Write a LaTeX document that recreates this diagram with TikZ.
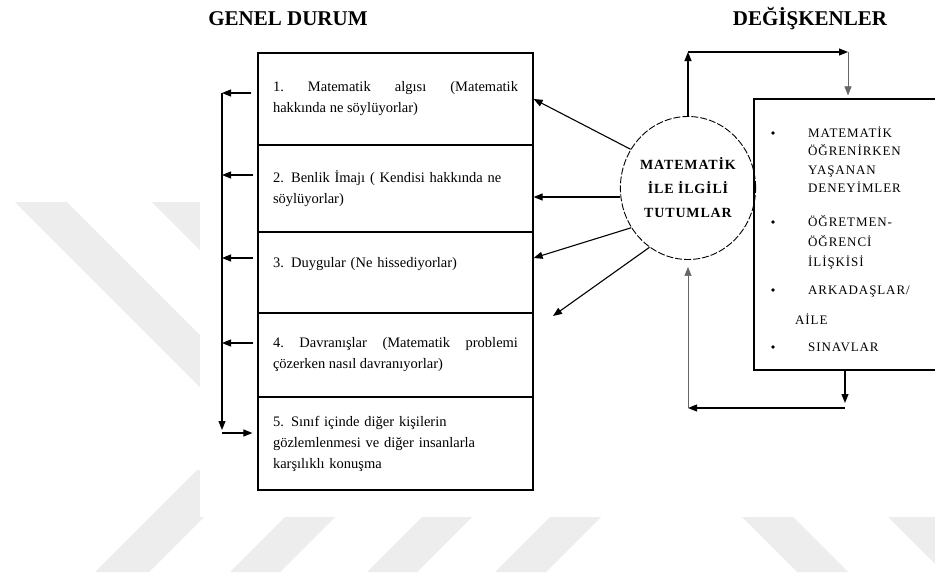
\documentclass[tikz,border=0pt]{standalone}
\usepackage{fontspec}
\setmainfont{Liberation Serif}
\newfontfamily\spacedA[LetterSpace=7]{Liberation Serif}
\newfontfamily\spacedB[LetterSpace=6]{Liberation Serif}
\usetikzlibrary{arrows.meta,shapes.geometric}
\tikzset{
  wm/.style={fill=black!7,draw=none},
  boxst/.style={draw,line width=1.2pt,minimum width=275pt,text width=245pt,inner xsep=15pt,inner ysep=0pt,
    font=\fontsize{14.5}{21}\selectfont},
  titlest/.style={font=\fontsize{21}{24}\selectfont\bfseries,anchor=base,inner sep=0pt},
  itm/.style={font=\spacedA\fontsize{13}{18}\selectfont,anchor=base west,inner sep=0pt},
  bul/.style={circle,fill=black,inner sep=1.4pt},
  arr/.style={-{Triangle[length=9pt,width=7pt]},line width=1.1pt},
  thinarr/.style={-{Triangle[length=9pt,width=7pt]},line width=0.6pt,draw=black!60},
}
\begin{document}
\begin{tikzpicture}[x=1pt,y=-1pt]
\useasboundingbox (0,0) rectangle (935,576);
\clip (0,0) rectangle (935,576);
\fill[white] (0,0) rectangle (935,576);
% watermark stripes
\fill[wm] (15,202) -- (67,202) -- (267,402) -- (215,402) -- cycle;
\fill[wm] (152,202) -- (204,202) -- (300,298) -- (248,298) -- cycle;
\fill[wm] (95,572) -- (149,572) -- (251,470) -- (197,470) -- cycle;
\fill[wm] (230,572) -- (280,572) -- (335,517) -- (285,517) -- cycle;
\fill[wm] (367,572) -- (417,572) -- (472,517) -- (422,517) -- cycle;
\fill[wm] (495,572) -- (546,572) -- (601,517) -- (550,517) -- cycle;
\fill[wm] (742,517) -- (793,517) -- (848,572) -- (797,572) -- cycle;
\fill[wm] (888,517) -- (940,517) -- (995,572) -- (943,572) -- cycle;
\fill[white] (200,0) rectangle (935,517);

% titles
\node[titlest] (gd) at (288,25) {GENEL DURUM};
\node[titlest] (dg) at (810,25) {DEĞİŞKENLER};

% left boxes
\node[boxst,minimum height=92pt,align=justify] (b1) at (395.5,99)
  {1.\ Matematik algısı (Matematik\linebreak hakkında ne söylüyorlar)};
\node[boxst,minimum height=87pt,align=left] (b2) at (395.5,188.5)
  {2. Benlik İmajı ( Kendisi hakkında ne\\ söylüyorlar)};
\node[boxst,minimum height=81pt,align=left] (b3) at (395.5,272.5)
  {3. Duygular (Ne hissediyorlar)\\ \mbox{}};
\node[boxst,minimum height=84pt,align=justify] (b4) at (395.5,355)
  {4.\ Davranışlar (Matematik problemi\linebreak çözerken nasıl davranıyorlar)};
\node[boxst,minimum height=93pt,align=left] (b5) at (395.5,443.5)
  {5. Sınıf içinde diğer kişilerin\\ gözlemlenmesi ve diğer insanlarla\\ karşılıklı konuşma};

% ellipse
\node[ellipse,draw,line width=0.9pt,dash pattern=on 7pt off 2pt,minimum width=124pt,minimum height=143pt,
  inner sep=0pt,align=center,font=\spacedB\bfseries\fontsize{14}{24}\selectfont] (att) at (688,188)
  {MATEMATİK\\İLE İLGİLİ\\TUTUMLAR};

% right box
\node[draw,line width=1.2pt,minimum width=220pt,minimum height=271pt] (var) at (864,234.5) {};
\node[bul] (d1) at (773,133) {};
\node[bul] (d2) at (773,222) {};
\node[bul] (d3) at (773,290) {};
\node[bul] (d4) at (773,347) {};
\node[itm] (v1) at (808,137) {MATEMATİK};
\node[itm] (v2) at (808,155) {ÖĞRENİRKEN};
\node[itm] (v3) at (808,174) {YAŞANAN};
\node[itm] (v4) at (808,192) {DENEYİMLER};
\node[itm] (v5) at (808,226) {ÖĞRETMEN-};
\node[itm] (v6) at (808,246) {ÖĞRENCİ};
\node[itm] (v7) at (808,266) {İLİŞKİSİ};
\node[itm] (v8) at (808,294) {ARKADAŞLAR/};
\node[itm] (v9) at (795,324) {AİLE};
\node[itm] (v10) at (808,351) {SINAVLAR};

% left feedback line
\coordinate (L1) at (222,93);
\coordinate (L2) at (222,175);
\coordinate (L3) at (222,258);
\coordinate (L4) at (222,343);
\coordinate (Lc) at (222,433);
\draw[arr,shorten <=6pt] (b1.west |- L1) -- (L1);
\draw[arr,shorten <=4pt] (b2.west |- L2) -- (L2);
\draw[arr,shorten <=4pt] (b3.west |- L3) -- (L3);
\draw[arr,shorten <=4pt] (b4.west |- L4) -- (L4);
\draw[arr,shorten >=3pt] (L1) -- (Lc);
\draw[arr,shorten >=5pt] (Lc) -- (b5.west |- Lc);

% ellipse to boxes
\coordinate (A4) at (553,316);
\draw[arr] (att.146) -- (b1.east);
\draw[arr] ([yshift=-9pt]att.west) -- ([yshift=-8.5pt]b2.east);
\draw[arr] (att.215) -- ([yshift=14.5pt]b3.east);
\draw[arr] (att.237) -- (A4);

% top loop
\coordinate (T1) at (688,52);
\coordinate (T2) at (848,52);
\draw[arr] (att.north) -- (T1);
\draw[arr] (T1) -- (T2);
\draw[thinarr,shorten >=3pt] (T2) -- (var.north -| T2);

% bottom loop
\coordinate (B1) at (845,408);
\coordinate (B2) at (688,408);
\draw[arr,shorten >=5pt] (var.south -| B1) -- (B1);
\draw[arr] (B1) -- (B2);
\draw[thinarr,shorten >=7pt] (B2) -- (att.south);
\end{tikzpicture}
\end{document}
